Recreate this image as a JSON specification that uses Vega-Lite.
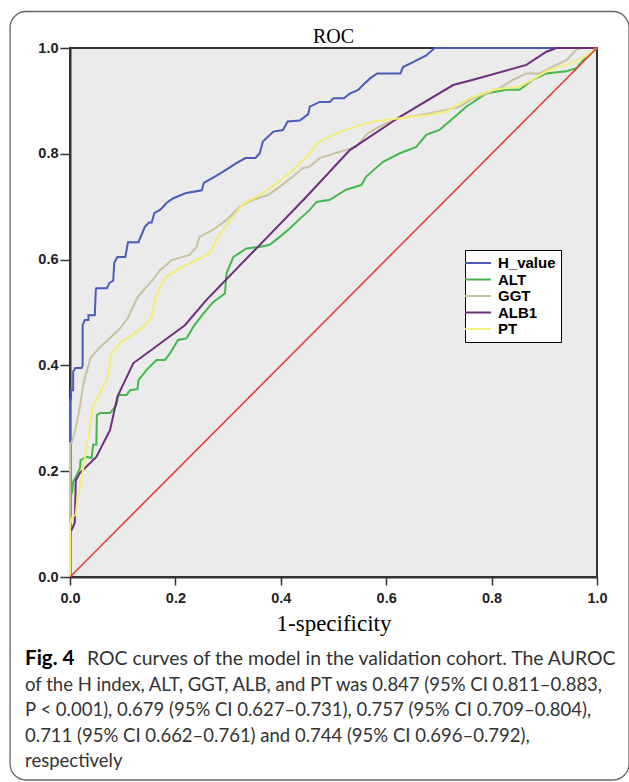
{
  "$schema": "https://vega.github.io/schema/vega-lite/v6.json",
  "width": 527,
  "height": 529,
  "autosize": {"type": "none"},
  "padding": {"left": 70, "top": 48, "right": 32, "bottom": 205},
  "background": "white",
  "title": {"text": "ROC", "font": "Liberation Serif", "fontSize": 20, "fontWeight": "normal", "color": "#000", "offset": -36, "anchor": "middle"},
  "config": {
    "view": {"stroke": "#333", "strokeWidth": 2, "fill": "#ebebeb"},
    "axis": {"domainColor": "#333", "domainWidth": 2, "tickColor": "#333", "tickWidth": 1.5, "labelFont": "Liberation Sans", "labelFontWeight": "bold", "labelFontSize": 14.5, "labelColor": "#222", "grid": false, "labelFlush": false}
  },
  "datasets": {
    "roc": [
      {"s":"H_value","x":0,"y":0},{"s":"H_value","x":0,"y":0.335},{"s":"H_value","x":0.002,"y":0.335},{"s":"H_value","x":0.002,"y":0.353},{"s":"H_value","x":0.006,"y":0.353},{"s":"H_value","x":0.006,"y":0.388},{"s":"H_value","x":0.01,"y":0.395},{"s":"H_value","x":0.022,"y":0.395},{"s":"H_value","x":0.024,"y":0.4},{"s":"H_value","x":0.024,"y":0.476},{"s":"H_value","x":0.028,"y":0.486},{"s":"H_value","x":0.035,"y":0.486},{"s":"H_value","x":0.035,"y":0.495},{"s":"H_value","x":0.047,"y":0.495},{"s":"H_value","x":0.049,"y":0.543},{"s":"H_value","x":0.05,"y":0.546},{"s":"H_value","x":0.07,"y":0.546},{"s":"H_value","x":0.075,"y":0.556},{"s":"H_value","x":0.082,"y":0.56},{"s":"H_value","x":0.084,"y":0.594},{"s":"H_value","x":0.09,"y":0.605},{"s":"H_value","x":0.105,"y":0.605},{"s":"H_value","x":0.11,"y":0.633},{"s":"H_value","x":0.13,"y":0.633},{"s":"H_value","x":0.142,"y":0.662},{"s":"H_value","x":0.15,"y":0.67},{"s":"H_value","x":0.155,"y":0.67},{"s":"H_value","x":0.16,"y":0.688},{"s":"H_value","x":0.172,"y":0.695},{"s":"H_value","x":0.183,"y":0.707},{"s":"H_value","x":0.196,"y":0.716},{"s":"H_value","x":0.221,"y":0.726},{"s":"H_value","x":0.25,"y":0.731},{"s":"H_value","x":0.254,"y":0.745},{"s":"H_value","x":0.275,"y":0.757},{"s":"H_value","x":0.29,"y":0.766},{"s":"H_value","x":0.315,"y":0.782},{"s":"H_value","x":0.333,"y":0.792},{"s":"H_value","x":0.352,"y":0.792},{"s":"H_value","x":0.36,"y":0.801},{"s":"H_value","x":0.366,"y":0.823},{"s":"H_value","x":0.386,"y":0.842},{"s":"H_value","x":0.404,"y":0.845},{"s":"H_value","x":0.413,"y":0.861},{"s":"H_value","x":0.436,"y":0.863},{"s":"H_value","x":0.452,"y":0.875},{"s":"H_value","x":0.455,"y":0.889},{"s":"H_value","x":0.474,"y":0.898},{"s":"H_value","x":0.493,"y":0.898},{"s":"H_value","x":0.5,"y":0.905},{"s":"H_value","x":0.52,"y":0.905},{"s":"H_value","x":0.531,"y":0.914},{"s":"H_value","x":0.547,"y":0.921},{"s":"H_value","x":0.56,"y":0.934},{"s":"H_value","x":0.57,"y":0.943},{"s":"H_value","x":0.583,"y":0.952},{"s":"H_value","x":0.627,"y":0.952},{"s":"H_value","x":0.632,"y":0.964},{"s":"H_value","x":0.65,"y":0.973},{"s":"H_value","x":0.676,"y":0.986},{"s":"H_value","x":0.692,"y":1},{"s":"H_value","x":1,"y":1},
      {"s":"ALT","x":0,"y":0},{"s":"ALT","x":0,"y":0.15},{"s":"ALT","x":0.004,"y":0.16},{"s":"ALT","x":0.006,"y":0.18},{"s":"ALT","x":0.01,"y":0.187},{"s":"ALT","x":0.019,"y":0.206},{"s":"ALT","x":0.02,"y":0.221},{"s":"ALT","x":0.032,"y":0.227},{"s":"ALT","x":0.041,"y":0.225},{"s":"ALT","x":0.044,"y":0.25},{"s":"ALT","x":0.05,"y":0.25},{"s":"ALT","x":0.051,"y":0.306},{"s":"ALT","x":0.057,"y":0.31},{"s":"ALT","x":0.076,"y":0.31},{"s":"ALT","x":0.088,"y":0.325},{"s":"ALT","x":0.092,"y":0.344},{"s":"ALT","x":0.107,"y":0.344},{"s":"ALT","x":0.114,"y":0.353},{"s":"ALT","x":0.128,"y":0.355},{"s":"ALT","x":0.13,"y":0.372},{"s":"ALT","x":0.145,"y":0.391},{"s":"ALT","x":0.164,"y":0.41},{"s":"ALT","x":0.18,"y":0.41},{"s":"ALT","x":0.19,"y":0.423},{"s":"ALT","x":0.205,"y":0.448},{"s":"ALT","x":0.221,"y":0.451},{"s":"ALT","x":0.234,"y":0.473},{"s":"ALT","x":0.253,"y":0.498},{"s":"ALT","x":0.272,"y":0.52},{"s":"ALT","x":0.294,"y":0.536},{"s":"ALT","x":0.297,"y":0.574},{"s":"ALT","x":0.31,"y":0.605},{"s":"ALT","x":0.335,"y":0.621},{"s":"ALT","x":0.36,"y":0.624},{"s":"ALT","x":0.379,"y":0.628},{"s":"ALT","x":0.398,"y":0.643},{"s":"ALT","x":0.417,"y":0.659},{"s":"ALT","x":0.436,"y":0.677},{"s":"ALT","x":0.455,"y":0.694},{"s":"ALT","x":0.468,"y":0.709},{"s":"ALT","x":0.493,"y":0.713},{"s":"ALT","x":0.524,"y":0.732},{"s":"ALT","x":0.553,"y":0.741},{"s":"ALT","x":0.562,"y":0.757},{"s":"ALT","x":0.594,"y":0.785},{"s":"ALT","x":0.626,"y":0.801},{"s":"ALT","x":0.657,"y":0.813},{"s":"ALT","x":0.676,"y":0.836},{"s":"ALT","x":0.701,"y":0.845},{"s":"ALT","x":0.727,"y":0.867},{"s":"ALT","x":0.752,"y":0.889},{"s":"ALT","x":0.79,"y":0.914},{"s":"ALT","x":0.828,"y":0.921},{"s":"ALT","x":0.853,"y":0.921},{"s":"ALT","x":0.878,"y":0.94},{"s":"ALT","x":0.904,"y":0.952},{"s":"ALT","x":0.942,"y":0.956},{"s":"ALT","x":0.961,"y":0.962},{"s":"ALT","x":0.98,"y":0.984},{"s":"ALT","x":1,"y":1},
      {"s":"GGT","x":0,"y":0},{"s":"GGT","x":0,"y":0.253},{"s":"GGT","x":0.003,"y":0.253},{"s":"GGT","x":0.01,"y":0.278},{"s":"GGT","x":0.014,"y":0.297},{"s":"GGT","x":0.02,"y":0.329},{"s":"GGT","x":0.024,"y":0.357},{"s":"GGT","x":0.029,"y":0.379},{"s":"GGT","x":0.039,"y":0.414},{"s":"GGT","x":0.057,"y":0.435},{"s":"GGT","x":0.076,"y":0.452},{"s":"GGT","x":0.095,"y":0.47},{"s":"GGT","x":0.11,"y":0.49},{"s":"GGT","x":0.123,"y":0.518},{"s":"GGT","x":0.129,"y":0.53},{"s":"GGT","x":0.152,"y":0.556},{"s":"GGT","x":0.171,"y":0.58},{"s":"GGT","x":0.193,"y":0.599},{"s":"GGT","x":0.227,"y":0.609},{"s":"GGT","x":0.24,"y":0.624},{"s":"GGT","x":0.246,"y":0.643},{"s":"GGT","x":0.271,"y":0.656},{"s":"GGT","x":0.297,"y":0.675},{"s":"GGT","x":0.322,"y":0.7},{"s":"GGT","x":0.347,"y":0.713},{"s":"GGT","x":0.376,"y":0.722},{"s":"GGT","x":0.398,"y":0.738},{"s":"GGT","x":0.423,"y":0.757},{"s":"GGT","x":0.442,"y":0.773},{"s":"GGT","x":0.455,"y":0.776},{"s":"GGT","x":0.474,"y":0.792},{"s":"GGT","x":0.512,"y":0.804},{"s":"GGT","x":0.543,"y":0.813},{"s":"GGT","x":0.562,"y":0.836},{"s":"GGT","x":0.581,"y":0.848},{"s":"GGT","x":0.6,"y":0.858},{"s":"GGT","x":0.626,"y":0.867},{"s":"GGT","x":0.663,"y":0.873},{"s":"GGT","x":0.701,"y":0.88},{"s":"GGT","x":0.739,"y":0.889},{"s":"GGT","x":0.765,"y":0.905},{"s":"GGT","x":0.79,"y":0.914},{"s":"GGT","x":0.815,"y":0.924},{"s":"GGT","x":0.841,"y":0.94},{"s":"GGT","x":0.866,"y":0.952},{"s":"GGT","x":0.891,"y":0.952},{"s":"GGT","x":0.916,"y":0.965},{"s":"GGT","x":0.942,"y":0.977},{"s":"GGT","x":0.96,"y":0.996},{"s":"GGT","x":0.97,"y":1},{"s":"GGT","x":1,"y":1},
      {"s":"ALB1","x":0,"y":0},{"s":"ALB1","x":0,"y":0.089},{"s":"ALB1","x":0.003,"y":0.089},{"s":"ALB1","x":0.009,"y":0.102},{"s":"ALB1","x":0.011,"y":0.183},{"s":"ALB1","x":0.019,"y":0.197},{"s":"ALB1","x":0.05,"y":0.227},{"s":"ALB1","x":0.076,"y":0.278},{"s":"ALB1","x":0.09,"y":0.341},{"s":"ALB1","x":0.12,"y":0.404},{"s":"ALB1","x":0.218,"y":0.476},{"s":"ALB1","x":0.259,"y":0.524},{"s":"ALB1","x":0.445,"y":0.715},{"s":"ALB1","x":0.531,"y":0.807},{"s":"ALB1","x":0.626,"y":0.87},{"s":"ALB1","x":0.727,"y":0.93},{"s":"ALB1","x":0.765,"y":0.94},{"s":"ALB1","x":0.866,"y":0.968},{"s":"ALB1","x":0.904,"y":0.993},{"s":"ALB1","x":0.923,"y":1},{"s":"ALB1","x":1,"y":1},
      {"s":"PT","x":0,"y":0},{"s":"PT","x":0,"y":0.1},{"s":"PT","x":0.005,"y":0.114},{"s":"PT","x":0.011,"y":0.118},{"s":"PT","x":0.014,"y":0.15},{"s":"PT","x":0.021,"y":0.18},{"s":"PT","x":0.025,"y":0.205},{"s":"PT","x":0.03,"y":0.236},{"s":"PT","x":0.036,"y":0.272},{"s":"PT","x":0.04,"y":0.3},{"s":"PT","x":0.043,"y":0.321},{"s":"PT","x":0.057,"y":0.348},{"s":"PT","x":0.07,"y":0.372},{"s":"PT","x":0.079,"y":0.423},{"s":"PT","x":0.098,"y":0.445},{"s":"PT","x":0.123,"y":0.461},{"s":"PT","x":0.14,"y":0.473},{"s":"PT","x":0.155,"y":0.492},{"s":"PT","x":0.161,"y":0.524},{"s":"PT","x":0.171,"y":0.549},{"s":"PT","x":0.183,"y":0.568},{"s":"PT","x":0.209,"y":0.584},{"s":"PT","x":0.24,"y":0.599},{"s":"PT","x":0.265,"y":0.612},{"s":"PT","x":0.278,"y":0.637},{"s":"PT","x":0.297,"y":0.665},{"s":"PT","x":0.329,"y":0.706},{"s":"PT","x":0.36,"y":0.722},{"s":"PT","x":0.392,"y":0.744},{"s":"PT","x":0.423,"y":0.769},{"s":"PT","x":0.455,"y":0.801},{"s":"PT","x":0.468,"y":0.82},{"s":"PT","x":0.499,"y":0.836},{"s":"PT","x":0.531,"y":0.848},{"s":"PT","x":0.575,"y":0.861},{"s":"PT","x":0.626,"y":0.867},{"s":"PT","x":0.676,"y":0.873},{"s":"PT","x":0.714,"y":0.88},{"s":"PT","x":0.752,"y":0.902},{"s":"PT","x":0.802,"y":0.921},{"s":"PT","x":0.853,"y":0.927},{"s":"PT","x":0.878,"y":0.94},{"s":"PT","x":0.904,"y":0.956},{"s":"PT","x":0.942,"y":0.968},{"s":"PT","x":0.973,"y":0.981},{"s":"PT","x":1,"y":1}
    ],
    "ref": [{"x":0,"y":0},{"x":1,"y":1}]
  },
  "layer": [
    {
      "data": {"values": [{}]},
      "mark": {"type": "rect", "fill": null, "stroke": "#666", "strokeWidth": 1.3, "cornerRadius": 16, "clip": false},
      "encoding": {
        "x": {"datum": -0.1137, "type": "quantitative", "scale": {"domain": [0, 1], "nice": false, "zero": false}},
        "x2": {"datum": 1.0607},
        "y": {"datum": -0.3837, "type": "quantitative", "scale": {"domain": [0, 1], "nice": false, "zero": false}},
        "y2": {"datum": 1.069}
      }
    },
    {
      "data": {"name": "roc"},
      "mark": {"type": "line", "strokeWidth": 2, "interpolate": "linear"},
      "encoding": {
        "x": {"field": "x", "type": "quantitative", "scale": {"domain": [0, 1], "nice": false, "zero": false},
              "axis": {"title": "1-specificity", "titleFont": "Liberation Serif", "titleFontSize": 23, "titleFontWeight": "normal", "titleColor": "#000", "values": [0, 0.2, 0.4, 0.6, 0.8, 1], "format": ".1f", "tickSize": 8, "labelPadding": 6, "titlePadding": 8}},
        "y": {"field": "y", "type": "quantitative", "scale": {"domain": [0, 1], "nice": false, "zero": false},
              "axis": {"title": null, "values": [0, 0.2, 0.4, 0.6, 0.8, 1], "format": ".1f", "tickSize": 10, "labelPadding": 2}},
        "order": [{"field": "x"}, {"field": "y"}],
        "color": {"field": "s", "type": "nominal",
                  "scale": {"domain": ["H_value", "ALT", "GGT", "ALB1", "PT"], "range": ["#4a5bb8", "#44b84a", "#c8c2a0", "#6e2d7e", "#f2ee78"]},
                  "legend": {"orient": "none", "legendX": 395, "legendY": 202, "title": null, "symbolType": "M-1.85,0H1.85", "symbolSize": 196, "symbolStrokeWidth": 2, "labelFont": "Liberation Sans", "labelFontWeight": "bold", "labelFontSize": 15, "labelColor": "#000", "fillColor": "white", "strokeColor": "#000", "padding": 5, "rowPadding": 0.5, "labelOffset": 12}}
      }
    },
    {
      "data": {"name": "ref"},
      "mark": {"type": "line", "color": "#e0403a", "strokeWidth": 1.6},
      "encoding": {
        "x": {"field": "x", "type": "quantitative", "scale": {"domain": [0, 1], "nice": false, "zero": false}},
        "y": {"field": "y", "type": "quantitative", "scale": {"domain": [0, 1], "nice": false, "zero": false}}
      }
    },
    {
      "data": {"values": [{}]},
      "mark": {"type": "text", "text": "Fig. 4", "font": "Lato", "fontSize": 20.5, "fontWeight": "bold", "color": "#000", "align": "left", "baseline": "alphabetic", "clip": false},
      "encoding": {
        "x": {"datum": -0.0853, "type": "quantitative", "scale": {"domain": [0, 1], "nice": false, "zero": false}},
        "y": {"datum": -0.1664, "type": "quantitative", "scale": {"domain": [0, 1], "nice": false, "zero": false}}
      }
    },
    {
      "data": {"values": [{}]},
      "mark": {"type": "text", "text": "ROC curves of the model in the validation cohort. The AUROC", "font": "Lato", "fontSize": 19.4, "color": "#333", "align": "left", "baseline": "alphabetic", "clip": false},
      "encoding": {
        "x": {"datum": 0.0322, "type": "quantitative", "scale": {"domain": [0, 1], "nice": false, "zero": false}},
        "y": {"datum": -0.1664, "type": "quantitative", "scale": {"domain": [0, 1], "nice": false, "zero": false}}
      }
    },
    {
      "data": {"values": [{}]},
      "mark": {"type": "text", "text": ["of the H index, ALT, GGT, ALB, and PT was 0.847 (95% CI 0.811–0.883,", "P < 0.001), 0.679 (95% CI 0.627–0.731), 0.757 (95% CI 0.709–0.804),", "0.711 (95% CI 0.662–0.761) and 0.744 (95% CI 0.696–0.792),", "respectively"], "lineHeight": 25.5, "font": "Lato", "fontSize": 18.5, "color": "#333", "align": "left", "baseline": "alphabetic", "clip": false},
      "encoding": {
        "x": {"datum": -0.0853, "type": "quantitative", "scale": {"domain": [0, 1], "nice": false, "zero": false}},
        "y": {"datum": -0.2155, "type": "quantitative", "scale": {"domain": [0, 1], "nice": false, "zero": false}}
      }
    }
  ]
}
